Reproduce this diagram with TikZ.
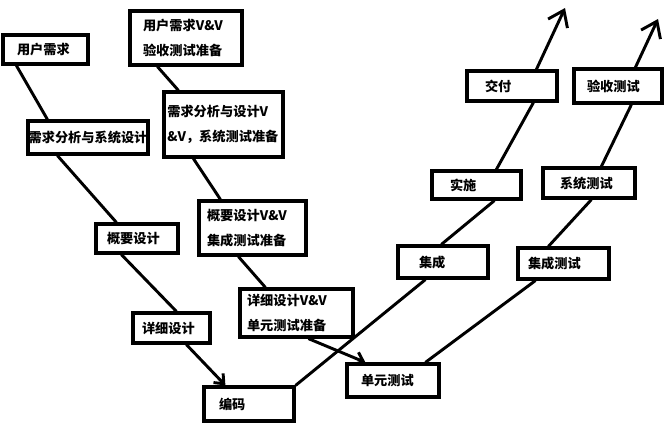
\documentclass[tikz,border=0pt]{standalone}
\usepackage{fontspec}
\setmainfont{Noto Sans CJK SC}
\usetikzlibrary{arrows.meta}

\begin{document}
\begin{tikzpicture}[
  x=0.75pt, y=-0.75pt,
  font=\bfseries\fontsize{9.9pt}{18.6pt}\selectfont,
  caja/.style={draw, line width=2.4pt, inner ysep=0pt, align=left},
  linea/.style={line width=2.2pt},
  punta/.style={linea, -{Straight Barb[length=6pt,width=10pt]}},
  puntagrande/.style={linea, -{Straight Barb[length=11pt,width=16pt]}},
]
\useasboundingbox (0,0) rectangle (670,431);
% --- Rama de desarrollo (izquierda) ---------------------------------------
\node[caja, minimum height=21.75pt, text width=42.75pt, inner xsep=10.5pt]
  (usuario) at (45.5,49.5) {用户需求};
\node[caja, minimum height=24.75pt, minimum width=90pt, inner xsep=0pt,
  align=center] (analisis) at (88,137.5) {需求分析与系统设计};
\node[caja, minimum height=21.75pt, text width=45pt, inner xsep=8.25pt]
  (diseno) at (137,238.5) {概要设计};
\node[caja, minimum height=22.5pt, text width=44.25pt, inner xsep=6.75pt]
  (detalle) at (171.5,328) {详细设计};
\node[caja, minimum height=25.5pt, text width=45pt, inner xsep=11.25pt]
  (codigo) at (249,404) {编码};
% --- Preparacion de V&V (centro) -------------------------------------------
\node[caja, minimum height=40.5pt, text width=64.5pt, inner xsep=9.75pt]
  (vvusuario) at (186,38) {用户需求V\&V\\验收测试准备};
\node[caja, minimum height=48.75pt, text width=84.25pt, inner xsep=2.5pt]
  (vvanalisis) at (223.5,124.5) {需求分析与设计V\\\&V，系统测试准备};
\node[caja, minimum height=40.5pt, text width=68.25pt, inner xsep=6pt]
  (vvdiseno) at (252.5,228) {概要设计V\&V\\集成测试准备};
\node[caja, minimum height=36pt, text width=74.25pt, inner xsep=5.25pt]
  (vvdetalle) at (296.5,313) {详细设计V\&V\\单元测试准备};
% --- Rama de integracion y pruebas (derecha) -------------------------------
\node[caja, minimum height=24.75pt, text width=48pt, inner xsep=10.5pt]
  (unidad) at (393,380.5) {单元测试};
\node[caja, minimum height=24pt, text width=36pt, inner xsep=15.75pt]
  (integra) at (443,262) {集成};
\node[caja, minimum height=21pt, text width=39.75pt, inner xsep=13.5pt]
  (implanta) at (476.5,185) {实施};
\node[caja, minimum height=22.5pt, text width=40.5pt, inner xsep=13.5pt]
  (entrega) at (512,86) {交付};
\node[caja, minimum height=23.25pt, text width=53.25pt, inner xsep=7.5pt]
  (intprueba) at (563.5,263.5) {集成测试};
\node[caja, minimum height=22.5pt, text width=43.5pt, inner xsep=12.75pt]
  (sisprueba) at (589,183) {系统测试};
\node[caja, minimum height=25.5pt, text width=46.5pt, inner xsep=9.75pt]
  (acept) at (618,86) {验收测试};
\coordinate (finentrega) at (565,8);
\coordinate (finacept) at (658,19);
% --- Conectores ------------------------------------------------------------
\draw[linea] ([xshift=11.25pt]usuario.south west)
  -- ([xshift=15.75pt]analisis.north west);
\draw[linea] ([xshift=23.25pt]analisis.south west)
  -- ([xshift=16.5pt]diseno.north west);
\draw[linea] ([xshift=20.25pt]diseno.south west)
  -- ([xshift=33.75pt]detalle.north west);
\draw[punta] ([xshift=41.25pt]detalle.south west)
  -- ([xshift=17.25pt]codigo.north west);
\draw[linea] ([xshift=21.75pt]vvusuario.south west)
  -- ([xshift=12pt]vvanalisis.north west);
\draw[linea] ([xshift=23.25pt]vvanalisis.south west)
  -- ([xshift=17.25pt]vvdiseno.north west);
\draw[linea] ([xshift=30.75pt]vvdiseno.south west)
  -- ([xshift=20.25pt]vvdetalle.north west);
\draw[punta] ([xshift=52.5pt]vvdetalle.south west)
  -- ([xshift=15pt]unidad.north west);
\draw[linea] (codigo.north east) -- ([xshift=21.75pt]integra.south west);
\draw[linea] ([xshift=33.75pt]integra.north west)
  -- ([xshift=48pt]implanta.south west);
\draw[linea] ([xshift=49.5pt]implanta.north west)
  -- ([xshift=51pt]entrega.south west);
\draw[puntagrande] ([xshift=53.25pt]entrega.north west) -- (finentrega);
\draw[linea] ([xshift=60pt]unidad.north west)
  -- ([xshift=14.25pt]intprueba.south west);
\draw[linea] ([xshift=24pt]intprueba.north west)
  -- ([xshift=37.5pt]sisprueba.south west);
\draw[linea] ([xshift=45pt]sisprueba.north west)
  -- ([xshift=44.25pt]acept.south west);
\draw[puntagrande] ([xshift=47.25pt]acept.north west) -- (finacept);
\end{tikzpicture}
\end{document}
